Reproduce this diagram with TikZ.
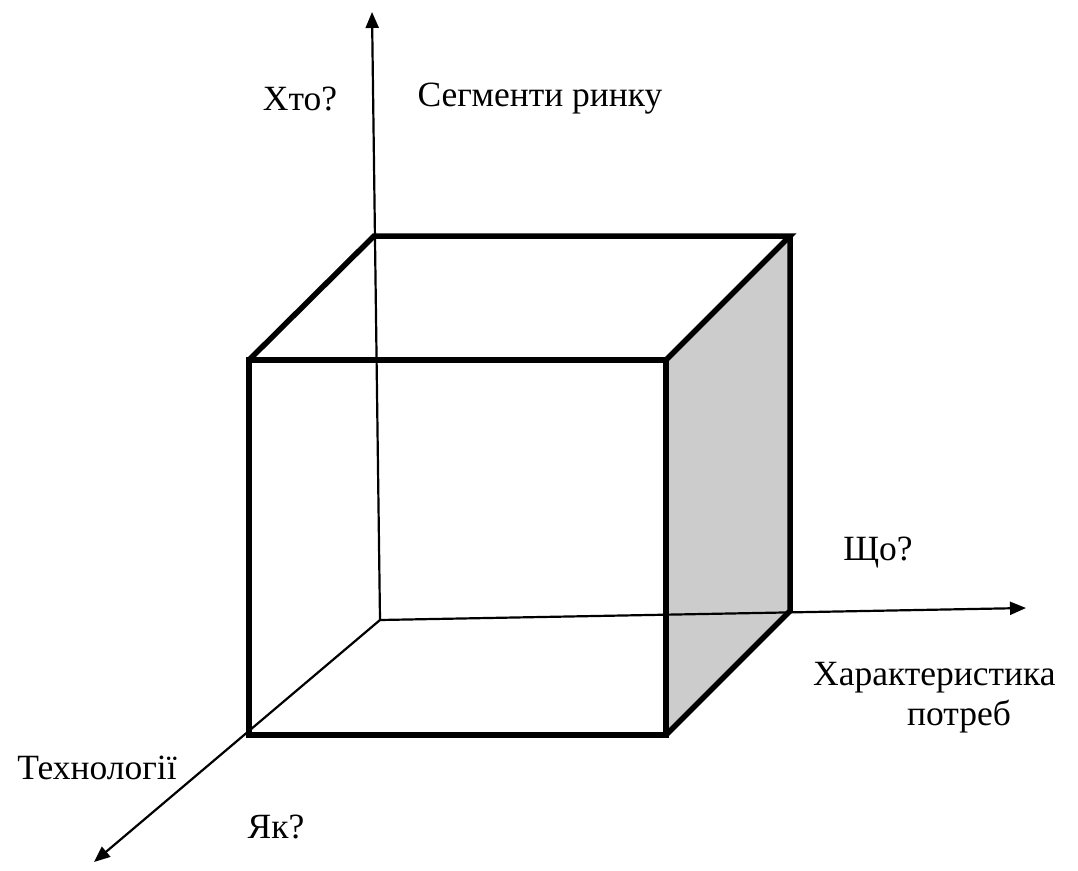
\documentclass[tikz,border=0pt]{standalone}
\usepackage{fontspec}
\setmainfont{Liberation Serif}
\newfontfamily\cubefont{Liberation Serif}
\usetikzlibrary{arrows.meta}

\begin{document}
\begin{tikzpicture}[x=1pt, y=-1pt,
  edge/.style={line width=5.5pt, line join=miter},
  axis/.style={line width=2.2pt, -{Triangle[length=16pt,width=13pt]}},
  lbl/.style={font=\cubefont\fontsize{35.5}{40}\selectfont, inner sep=0pt}]
  \useasboundingbox (0,0) rectangle (1078,870);

  % cube corners
  \coordinate (A) at (249,360);
  \coordinate (B) at (666,360);
  \coordinate (C) at (666,735);
  \coordinate (D) at (249,735);
  \coordinate (E) at (374,236);
  \coordinate (F) at (790,236);
  \coordinate (G) at (790,611);

  \fill[gray!40] (B) -- (F) -- (G) -- (C) -- cycle;
  \draw[edge] (A) -- (B) -- (C) -- (D) -- cycle;
  \draw[edge] (A) -- (E) -- (F) -- (B);
  \draw[edge] (F) -- (G) -- (C);

  % axes
  \coordinate (O) at (380,620);
  \coordinate (up) at (372,12);
  \coordinate (right) at (1026,608);
  \coordinate (down) at (94,862);
  \draw[axis] (O) -- (up);
  \draw[axis] (O) -- (right);
  \draw[axis] (O) -- (down);

  \node[lbl] (who) at (300,99) {Хто?};
  \node[lbl] (seg) at (540,99) {Сегменти ринку};
  \node[lbl] (what) at (878,553) {Що?};
  \node[lbl, align=left, anchor=north west] (needs) at (813,662)
    {Характеристика\\\hspace*{94pt}потреб};
  \node[lbl] (tech) at (97,768) {Технології};
  \node[lbl] (how) at (276,827) {Як?};
\end{tikzpicture}
\end{document}
